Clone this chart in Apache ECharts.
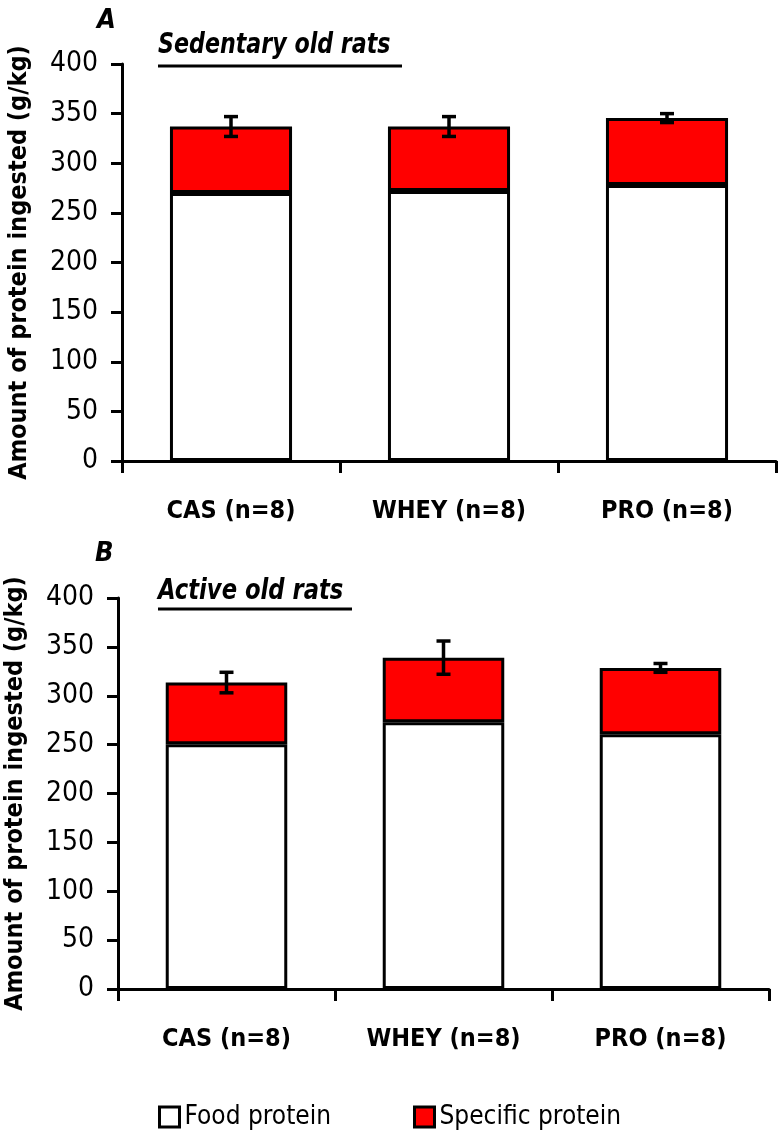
<!DOCTYPE html>
<html>
<head>
<meta charset="utf-8">
<script src="https://cdn.jsdelivr.net/npm/echarts@6/dist/echarts.min.js"></script>
<style>
html,body{margin:0;padding:0;background:#fff;}
#chart{width:778px;height:1131px;}
</style>
</head>
<body>
<div id="chart"></div>
<script>
// ---- data ----
const categories = ['CAS (n=8)', 'WHEY (n=8)', 'PRO (n=8)'];
const yTicks = [0, 50, 100, 150, 200, 250, 300, 350, 400];
// Panel A: sedentary old rats
const foodA = [270, 272, 278];
const specificA = [67, 65, 67.5];
const errA = [10, 10, 4.5];
// Panel B: active old rats
const foodB = [250.5, 273, 260.5];
const specificB = [63, 66, 68];
const errB = [10.5, 17, 4.5];

const FONT = "'Liberation Sans Narrow', 'DejaVu Sans Condensed', 'Arial Narrow', sans-serif";

function errData(food, spec, err) {
  return food.map((f, i) => [i, f + spec[i], err[i]]);
}

function yAxisCfg(gridIndex) {
  return {
    type: 'value', gridIndex: gridIndex,
    min: yTicks[0], max: yTicks[yTicks.length - 1], interval: 50,
    name: 'Amount of protein ingested (g/kg)',
    nameLocation: 'middle', nameGap: 90,
    nameTextStyle: { fontFamily: FONT, fontWeight: 'bold', fontSize: 25, color: '#000' },
    axisLine: { show: true, lineStyle: { color: '#000', width: 3 } },
    axisTick: { show: true, length: 11, lineStyle: { color: '#000', width: 3 } },
    axisLabel: { fontFamily: FONT, fontSize: 28, color: '#000', margin: 24 },
    splitLine: { show: false }
  };
}
function xAxisCfg(gridIndex) {
  return {
    type: 'category', gridIndex: gridIndex, data: categories, boundaryGap: true,
    axisLine: { show: true, lineStyle: { color: '#000', width: 3 } },
    axisTick: { show: true, interval: 0, length: 12, lineStyle: { color: '#000', width: 3 } },
    axisLabel: { interval: 0, fontFamily: FONT, fontWeight: 'bold', fontSize: 25, color: '#000', margin: 38 }
  };
}

function errorSeries(idx, data) {
  return {
    type: 'custom', xAxisIndex: idx, yAxisIndex: idx, z: 10,
    data: data,
    renderItem: function (params, api) {
      const x = api.value(0), y = api.value(1), e = api.value(2);
      const top = api.coord([x, y + e]);
      const bot = api.coord([x, y - e]);
      const h = 7;
      const st = { stroke: '#000', lineWidth: 3.5 };
      return {
        type: 'group',
        children: [
          { type: 'line', shape: { x1: top[0], y1: top[1], x2: bot[0], y2: bot[1] }, style: st },
          { type: 'line', shape: { x1: top[0] - h, y1: top[1], x2: top[0] + h, y2: top[1] }, style: st },
          { type: 'line', shape: { x1: bot[0] - h, y1: bot[1], x2: bot[0] + h, y2: bot[1] }, style: st }
        ]
      };
    }
  };
}

function barSeries(idx, name, data, color, stack) {
  return {
    type: 'bar', name: name, xAxisIndex: idx, yAxisIndex: idx, stack: stack,
    barWidth: '56%', data: data,
    itemStyle: { color: color, borderColor: '#000', borderWidth: 3 },
    emphasis: { disabled: true }
  };
}

function legendCfg(left, name) {
  return {
    left: left, top: 1099, itemWidth: 20, itemHeight: 20, icon: 'rect',
    data: [name],
    itemStyle: { borderColor: '#000', borderWidth: 3 },
    textStyle: { fontFamily: FONT, fontSize: 26, color: '#000' }
  };
}

const chart = echarts.init(document.getElementById('chart'), null, { renderer: 'canvas' });
chart.setOption({
  backgroundColor: '#fff',
  animation: false,
  grid: [
    { left: 122, top: 64, width: 654, height: 397, containLabel: false, outerBoundsMode: 'none' },
    { left: 118, top: 598, width: 651, height: 391, containLabel: false, outerBoundsMode: 'none' }
  ],
  xAxis: [xAxisCfg(0), xAxisCfg(1)],
  yAxis: [yAxisCfg(0), yAxisCfg(1)],
  legend: [legendCfg(153, 'Food protein'), legendCfg(408, 'Specific protein')],
  graphic: [
    { type: 'text', left: 97, top: 7, style: { text: 'A', font: "italic bold 27px " + FONT, fill: '#000' } },
    { type: 'text', left: 158, top: 31, scaleX: 0.85, style: { text: 'Sedentary old rats', font: "italic bold 29px " + FONT, fill: '#000' } },
    { type: 'line', shape: { x1: 158, y1: 66, x2: 402, y2: 66 }, style: { stroke: '#000', lineWidth: 3 } },
    { type: 'text', left: 95, top: 540, style: { text: 'B', font: "italic bold 27px " + FONT, fill: '#000' } },
    { type: 'text', left: 158, top: 577, scaleX: 0.87, style: { text: 'Active old rats', font: "italic bold 29px " + FONT, fill: '#000' } },
    { type: 'line', shape: { x1: 158, y1: 609, x2: 352, y2: 609 }, style: { stroke: '#000', lineWidth: 3 } }
  ],
  series: [
    barSeries(0, 'Food protein', foodA, '#ffffff', 'a'),
    barSeries(0, 'Specific protein', specificA, '#ff0000', 'a'),
    errorSeries(0, errData(foodA, specificA, errA)),
    barSeries(1, 'Food protein', foodB, '#ffffff', 'b'),
    barSeries(1, 'Specific protein', specificB, '#ff0000', 'b'),
    errorSeries(1, errData(foodB, specificB, errB))
  ]
});
</script>
</body>
</html>
